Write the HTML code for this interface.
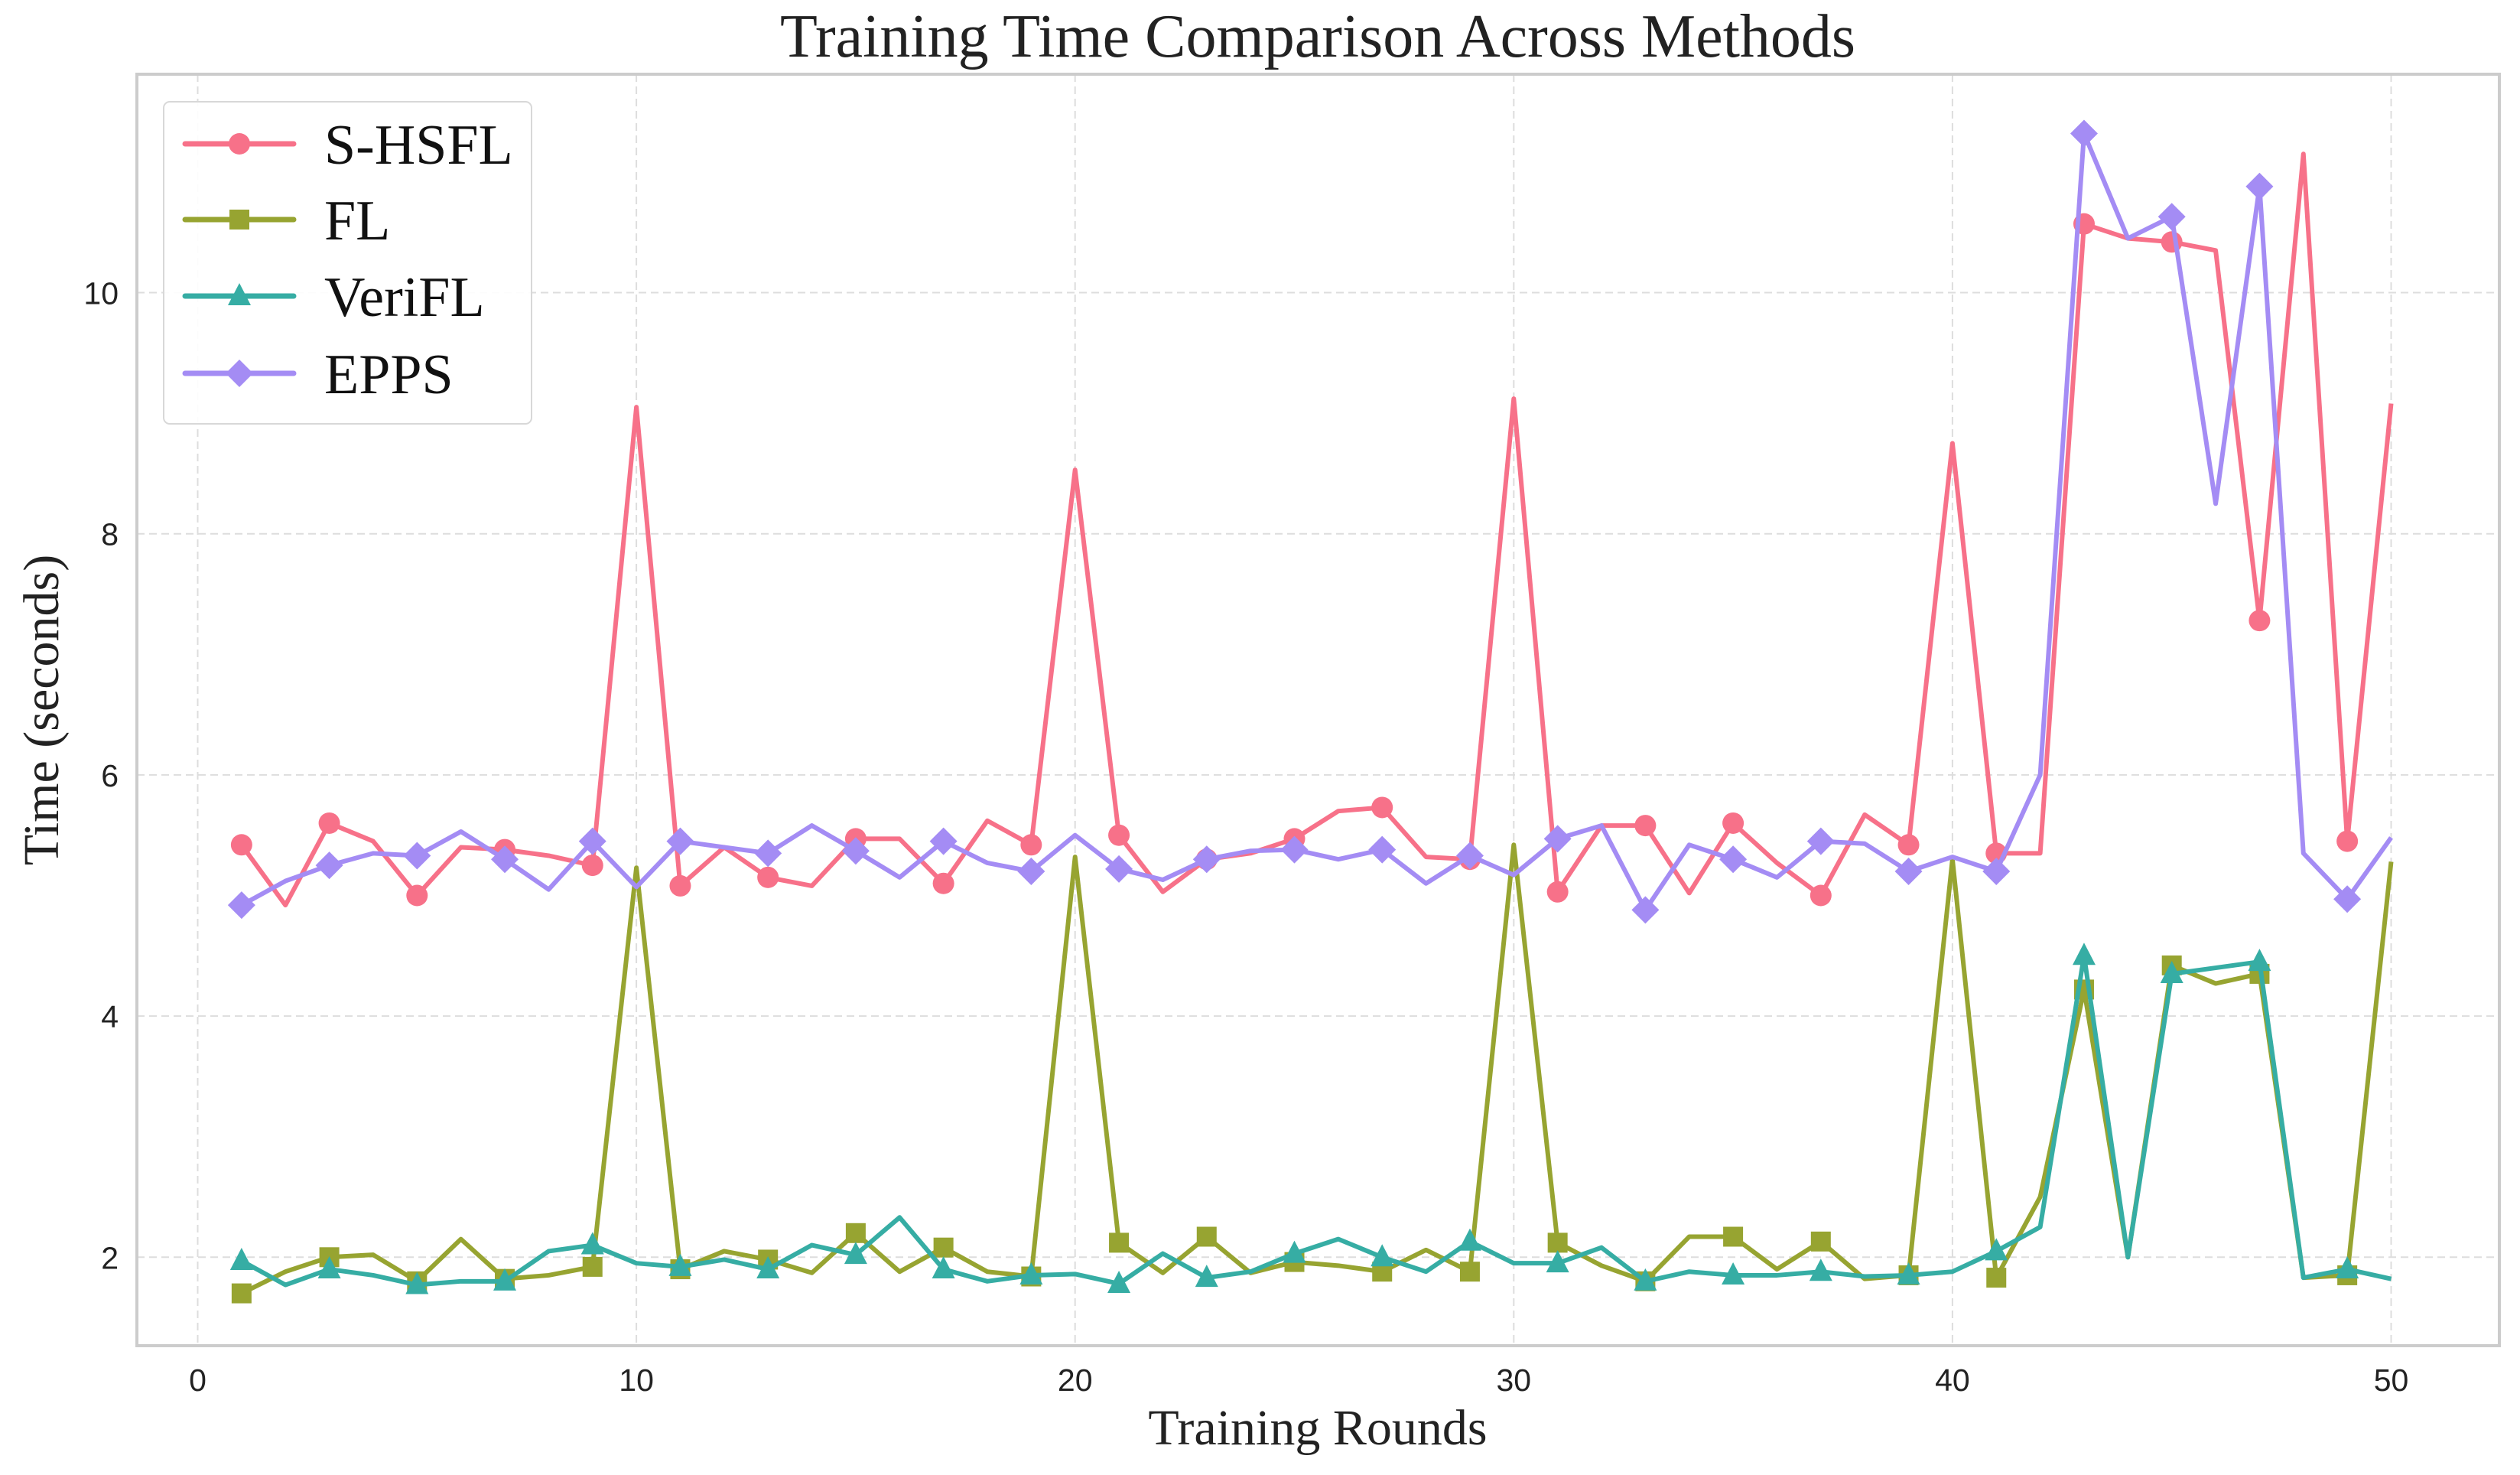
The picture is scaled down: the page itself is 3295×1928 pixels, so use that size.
<!DOCTYPE html>
<html><head><meta charset="utf-8"><style>
html,body{margin:0;padding:0;background:#fff;}
svg{display:block;}
</style></head><body>
<svg id="chart" width="3295" height="1928" xmlns="http://www.w3.org/2000/svg">
<g id="grid"></g>
<g id="ticks"></g>
<g id="series"></g>
<rect x="179" y="97" width="3089" height="1662" fill="none" stroke="#cccccc" stroke-width="4"/>
<text x="1723" y="74" text-anchor="middle" font-family="Liberation Serif, serif" font-size="80" fill="#222">Training Time Comparison Across Methods</text>
<text x="1723" y="1888" text-anchor="middle" font-family="Liberation Serif, serif" font-size="66" fill="#222">Training Rounds</text>
<text transform="translate(76,928) rotate(-90)" text-anchor="middle" font-family="Liberation Serif, serif" font-size="66" fill="#222">Time (seconds)</text>
<g id="legend"></g>
</svg>
<script>
const rounds = [];
for (let i = 1; i <= 50; i++) rounds.push(i);
const shsfl = [5.42,4.92,5.6,5.45,5.0,5.4,5.38,5.33,5.25,9.05,5.08,5.4,5.15,5.08,5.47,5.47,5.1,5.62,5.42,8.53,5.5,5.03,5.3,5.35,5.47,5.7,5.73,5.32,5.3,9.12,5.03,5.58,5.58,5.02,5.6,5.27,5.0,5.67,5.42,8.75,5.35,5.35,10.57,10.45,10.42,10.35,7.28,11.15,5.45,9.08];
const fl = [1.7,1.88,2.0,2.02,1.8,2.15,1.82,1.85,1.92,5.23,1.9,2.05,1.98,1.87,2.2,1.88,2.08,1.88,1.84,5.32,2.12,1.87,2.17,1.87,1.96,1.93,1.88,2.06,1.88,5.42,2.12,1.93,1.8,2.17,2.17,1.9,2.13,1.82,1.85,5.3,1.83,2.5,4.22,2.0,4.42,4.27,4.35,1.83,1.85,5.28];
const verifl = [1.97,1.77,1.9,1.85,1.77,1.8,1.8,2.05,2.1,1.95,1.92,1.98,1.9,2.1,2.02,2.33,1.9,1.8,1.85,1.86,1.78,2.03,1.83,1.88,2.03,2.15,2.0,1.88,2.13,1.95,1.95,2.08,1.8,1.88,1.85,1.85,1.88,1.84,1.85,1.88,2.05,2.25,4.5,2.0,4.35,4.4,4.45,1.83,1.9,1.82];
const epps = [4.92,5.12,5.25,5.35,5.33,5.53,5.3,5.05,5.45,5.07,5.45,5.4,5.35,5.58,5.37,5.15,5.45,5.27,5.2,5.5,5.22,5.13,5.3,5.37,5.38,5.3,5.38,5.1,5.33,5.17,5.47,5.58,4.88,5.42,5.3,5.15,5.45,5.43,5.2,5.32,5.2,6.0,11.32,10.45,10.63,8.25,10.88,5.35,4.97,5.48];
const seriesNames = ["S-HSFL","FL","VeriFL","EPPS"];
const xTicks = [0,10,20,30,40,50];
const yTicks = [2,4,6,8,10];

const NS = "http://www.w3.org/2000/svg";
const X0 = 258.5, XS = 57.36, Y10 = 382.5, YS = 157.6;
const L = 179, R = 3268, T = 97, B = 1759;
function xs(v){ return X0 + v*XS; }
function ys(v){ return Y10 + (10 - v)*YS; }
function mk(tag, attrs, parent){ const e = document.createElementNS(NS, tag); for (const k in attrs) e.setAttribute(k, attrs[k]); parent.appendChild(e); return e; }

const grid = document.getElementById('grid'), ticks = document.getElementById('ticks');
xTicks.forEach(t => {
  const g = mk('line', {x1:xs(t), x2:xs(t), y1:T, y2:B, stroke:'#dddddd', 'stroke-width':2, 'stroke-dasharray':'10,6'}, grid);
  
  
  const lb = mk('text', {x:xs(t), y:1818, 'text-anchor':'middle', 'font-family':'Liberation Sans, sans-serif', 'font-size':41, fill:'#222'}, ticks);
  lb.textContent = t;
  
  
});
yTicks.forEach(t => {
  const g = mk('line', {x1:L, x2:R, y1:ys(t), y2:ys(t), stroke:'#dddddd', 'stroke-width':2, 'stroke-dasharray':'10,6'}, grid);
  
  
  const lb = mk('text', {x:155, y:ys(t)+15, 'text-anchor':'end', 'font-family':'Liberation Sans, sans-serif', 'font-size':41, fill:'#222'}, ticks);
  lb.textContent = t;
  
  
});

const colors = ['#f77189','#97a431','#36ada4','#a48cf4'];
const shapes = ['circle','square','triangle','diamond'];
function marker(shape, cx, cy, col, parent){
  let e;
  if (shape === 'circle') e = mk('ellipse', {cx:cx, cy:cy, rx:14, ry:14, fill:col}, parent);
  else if (shape === 'square') e = mk('rect', {x:cx-13, y:cy-13, width:26, height:26, fill:col}, parent);
  else if (shape === 'triangle') e = mk('polygon', {points:`${cx},${cy-17} ${cx+15},${cy+12} ${cx-15},${cy+12}`, fill:col}, parent);
  else e = mk('polygon', {points:`${cx},${cy-18} ${cx+18},${cy} ${cx},${cy+18} ${cx-18},${cy}`, fill:col}, parent);
  return e;
}
const sg = document.getElementById('series');
const all = [shsfl, fl, verifl, epps];
all.forEach((data, si) => {
  const g = mk('g', {}, sg);
  
  
  const pts = data.map((v, i) => xs(rounds[i]) + ',' + ys(v)).join(' ');
  const pl = mk('polyline', {points:pts, fill:'none', stroke:colors[si], 'stroke-width':6, 'stroke-linejoin':'round'}, g);
  
  
  data.forEach((v, i) => {
    if (i % 2 === 0) {
      const m = marker(shapes[si], xs(rounds[i]), ys(v), colors[si], g);
      
      
    }
  });
});

const lg = document.getElementById('legend');
const box = mk('rect', {x:214, y:133, width:481, height:421, rx:8, fill:'#fff', 'fill-opacity':0.9, stroke:'#d8d8d8', 'stroke-width':2}, lg);


const ly = [188, 287, 387, 488];
seriesNames.forEach((n, i) => {
  const g = mk('g', {}, lg);
  
  
  mk('line', {x1:242, x2:384, y1:ly[i], y2:ly[i], stroke:colors[i], 'stroke-width':7, 'stroke-linecap':'round'}, g);
  marker(shapes[i], 313, ly[i], colors[i], g);
  const t = mk('text', {x:424, y:ly[i]+26, 'font-family':'Liberation Serif, serif', 'font-size':74, fill:'#111'}, g);
  t.textContent = n;
});
</script>
</body></html>
